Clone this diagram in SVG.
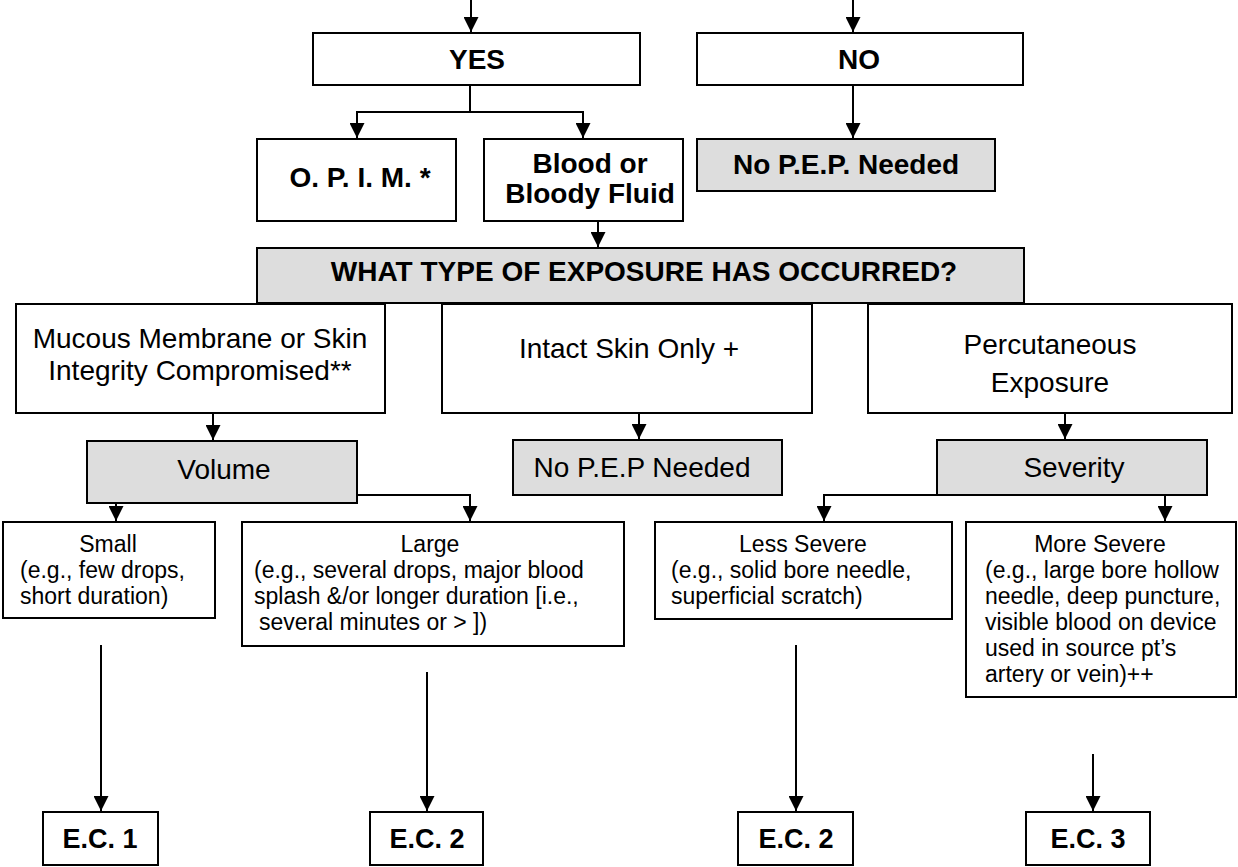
<svg xmlns="http://www.w3.org/2000/svg" width="1238" height="867" viewBox="0 0 1238 867">
<style>
.box{fill:#ffffff;stroke:#000000;stroke-width:2}
.gray{fill:#dddddd;stroke:#000000;stroke-width:2}
.b{font-family:"Liberation Sans",Arial,sans-serif;font-weight:bold;font-size:28px;fill:#000;text-anchor:middle}
.r{font-family:"Liberation Sans",Arial,sans-serif;font-size:28px;fill:#000;text-anchor:middle}
.s{font-family:"Liberation Sans",Arial,sans-serif;font-size:23px;fill:#000}
.c{text-anchor:middle}
.ec{font-family:"Liberation Sans",Arial,sans-serif;font-weight:bold;font-size:27px;fill:#000;text-anchor:middle}
.con{fill:none;stroke:#000000;stroke-width:2}
</style>
<defs>
<marker id="ah" markerUnits="userSpaceOnUse" markerWidth="15" markerHeight="15" refX="15" refY="7.5" orient="auto">
<path d="M0,0 L15,7.5 L0,15 z" fill="#000000"/>
</marker>
</defs>
<rect x="0" y="0" width="1238" height="867" fill="#ffffff"/>
<g id="connectors">
<path class="con" d="M471,0 V32" marker-end="url(#ah)"/>
<path class="con" d="M853,0 V32" marker-end="url(#ah)"/>
<path class="con" d="M470,86 V112 H357 V138" marker-end="url(#ah)"/>
<path class="con" d="M470,112 H583 V138" marker-end="url(#ah)"/>
<path class="con" d="M853,86 V138" marker-end="url(#ah)"/>
<path class="con" d="M598,222 V247" marker-end="url(#ah)"/>
<path class="con" d="M213,414 V440" marker-end="url(#ah)"/>
<path class="con" d="M639,414 V439" marker-end="url(#ah)"/>
<path class="con" d="M1065,414 V439" marker-end="url(#ah)"/>
<path class="con" d="M116,504 V521" marker-end="url(#ah)"/>
<path class="con" d="M357,495 H470 V521" marker-end="url(#ah)"/>
<path class="con" d="M967,495 H824 V521" marker-end="url(#ah)"/>
<path class="con" d="M1165,496 V521" marker-end="url(#ah)"/>
<path class="con" d="M101,645 V811" marker-end="url(#ah)"/>
<path class="con" d="M427,672 V811" marker-end="url(#ah)"/>
<path class="con" d="M796,645 V811" marker-end="url(#ah)"/>
<path class="con" d="M1093,754 V811" marker-end="url(#ah)"/>
</g>
<g id="yes"><rect class="box" x="313" y="33" width="327" height="52"/><text class="b" x="477" y="69">YES</text></g>
<g id="no"><rect class="box" x="697" y="33" width="326" height="52"/><text class="b" x="859" y="69">NO</text></g>
<g id="opim"><rect class="box" x="257" y="139" width="199" height="82"/><text class="b" x="360" y="187">O. P. I. M. *</text></g>
<g id="blood"><rect class="box" x="484" y="139" width="199" height="82"/><text class="b" x="590" y="173">Blood or</text><text class="b" x="590" y="203">Bloody Fluid</text></g>
<g id="nopep1"><rect class="gray" x="697" y="139" width="298" height="52"/><text class="b" x="846" y="174">No P.E.P. Needed</text></g>
<g id="what"><rect class="gray" x="257" y="248" width="767" height="55"/><text class="b" x="644" y="281">WHAT TYPE OF EXPOSURE HAS OCCURRED?</text></g>
<g id="mucous"><rect class="box" x="16" y="304" width="369" height="109"/><text class="r" x="200" y="348">Mucous Membrane or Skin</text><text class="r" x="200" y="380">Integrity Compromised**</text></g>
<g id="intact"><rect class="box" x="442" y="304" width="370" height="109"/><text class="r" x="629" y="358">Intact Skin Only +</text></g>
<g id="percutaneous"><rect class="box" x="868" y="304" width="364" height="109"/><text class="r" x="1050" y="354">Percutaneous</text><text class="r" x="1050" y="392">Exposure</text></g>
<g id="volume"><rect class="gray" x="87" y="441" width="270" height="62"/><text class="r" x="224" y="479">Volume</text></g>
<g id="nopep2"><rect class="gray" x="513" y="440" width="269" height="55"/><text class="r" x="642" y="477">No P.E.P Needed</text></g>
<g id="severity"><rect class="gray" x="937" y="440" width="270" height="55"/><text class="r" x="1074" y="477">Severity</text></g>
<g id="small"><rect class="box" x="3" y="522" width="212" height="96"/><text class="s c" x="108" y="552">Small</text><text class="s" x="20" y="578">(e.g., few drops,</text><text class="s" x="20" y="604">short duration)</text></g>
<g id="large"><rect class="box" x="242" y="522" width="382" height="124"/><text class="s c" x="430" y="552">Large</text><text class="s" x="254" y="578">(e.g., several drops, major blood</text><text class="s" x="254" y="604">splash &amp;/or longer duration [i.e.,</text><text class="s" x="259" y="630">several minutes or &gt; ])</text></g>
<g id="lesssevere"><rect class="box" x="655" y="522" width="297" height="97"/><text class="s c" x="803" y="552">Less Severe</text><text class="s" x="671" y="578">(e.g., solid bore needle,</text><text class="s" x="671" y="604">superficial scratch)</text></g>
<g id="moresevere"><rect class="box" x="966" y="522" width="270" height="175"/><text class="s c" x="1100" y="552">More Severe</text><text class="s" x="985" y="578">(e.g., large bore hollow</text><text class="s" x="985" y="604">needle, deep puncture,</text><text class="s" x="985" y="630">visible blood on device</text><text class="s" x="985" y="656">used in source pt’s</text><text class="s" x="985" y="682">artery or vein)++</text></g>
<g id="ec1"><rect class="box" x="43" y="812" width="115" height="53"/><text class="ec" x="100" y="848">E.C. 1</text></g>
<g id="ec2a"><rect class="box" x="370" y="812" width="113" height="53"/><text class="ec" x="427" y="848">E.C. 2</text></g>
<g id="ec2b"><rect class="box" x="738" y="812" width="115" height="53"/><text class="ec" x="796" y="848">E.C. 2</text></g>
<g id="ec3"><rect class="box" x="1026" y="812" width="124" height="53"/><text class="ec" x="1088" y="848">E.C. 3</text></g>
</svg>
